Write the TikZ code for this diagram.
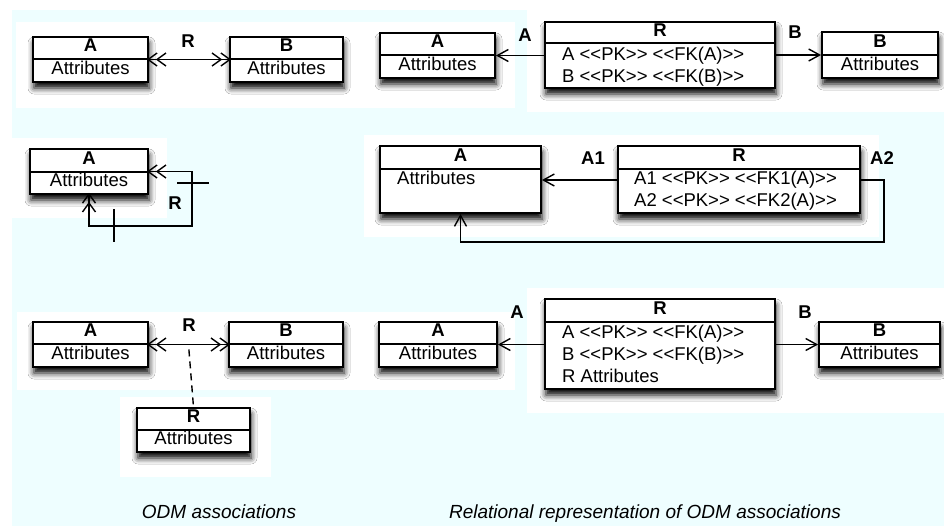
\documentclass[tikz,border=0pt]{standalone}
\usepackage{fontspec}
\setmainfont{Liberation Sans}[Ligatures=TeXOff]
\usetikzlibrary{arrows.meta,shadows.blur,fit,calc}
\definecolor{bgcyan}{RGB}{238,254,255}
\newcommand\umlbox[7]{%
  \coordinate (#1-nw) at (#2,#3);
  \coordinate (#1-se) at (#4,#5);
  \node[ubox, fit=(#1-nw)(#1-se)] (#1) {};
  \draw[divline] (#1.west |- 0,#6) -- (#1.east |- 0,#6);
  \node[ttl] (#1-title) at ({(#2+#4)/2},{(#3+#6)/2}) {#7};
}
\begin{document}
\begin{tikzpicture}[x=1pt,y=-1pt,
  >={Straight Barb[length=9pt,width=13pt,sep=-2pt]},
  ubox/.style={draw=black, line width=1.8pt, fill=white, inner sep=0pt,
    blur shadow={shadow xshift=1pt, shadow yshift=-6pt, shadow blur radius=6pt, shadow opacity=100}},
  divline/.style={line width=1.3pt},
  txt/.style={inner sep=0pt, text height=0.716em, text depth=0pt, font=\fontsize{18.5}{21}\selectfont},
  ttl/.style={txt, font=\fontsize{18.5}{21}\selectfont\bfseries},
  lbl/.style={ttl},
  conn/.style={line width=1.4pt},
  single/.style={conn, -{Straight Barb[length=11pt,width=12pt]}},
  dbl/.style={conn, <<->>},
  captext/.style={inner sep=0pt, text height=0.716em, text depth=0pt, font=\fontsize{19}{22}\selectfont\itshape}
]
\useasboundingbox (0,0) rectangle (944,528);
\fill[bgcyan] (12,10) rectangle (944,526);
% white zones
\fill[white] (16,22) rectangle (515,108);
\fill[white] (527,8) rectangle (944,112);
\fill[white] (12,138) rectangle (167,218);
\fill[white] (364,135) rectangle (879,237);
\fill[white] (17,312) rectangle (515,390);
\fill[white] (527,288) rectangle (944,413);
\fill[white] (120,397) rectangle (271,477);

% ---------- row 1 ----------
\umlbox{a1}{33}{37}{148}{82}{59}{A}
\node[txt] at (90.5,70.5) {Attributes};
\umlbox{b1}{230}{37}{343}{82}{59}{B}
\node[txt] at (286.5,70.5) {Attributes};
\draw[dbl] (a1.east) -- (b1.west);
\node[lbl] at (188,44) {R};

\umlbox{a2}{380}{33}{495}{78}{55}{A}
\node[txt] at (437.5,66.5) {Attributes};
\umlbox{r2}{545}{22}{775}{88}{43}{R}
\node[txt, anchor=west] at (562,57) {A <<PK>> <<FK(A)>>};
\node[txt, anchor=west] at (562,79) {B <<PK>> <<FK(B)>>};
\umlbox{b2}{822}{32}{938}{78}{55}{B}
\node[txt] at (880,66.5) {Attributes};
\draw[single] (r2.west |- a2.east) -- (a2.east);
\draw[single] (r2.east |- b2.west) -- (b2.west);
\node[lbl] at (525,38) {A};
\node[lbl] at (795,35) {B};

% ---------- row 2 ----------
\umlbox{a3}{30}{149}{148}{194}{172}{A}
\node[txt] at (89,183) {Attributes};
\draw[dbl] (a3.east) -- (192,171.5) -- (192,226) -| (a3.south);
\draw[conn] (177,183) -- (209,183);
\draw[conn] (114,209) -- (114,242);
\node[lbl] at (175,206) {R};

\umlbox{a4}{380}{146}{541}{213}{169}{A}
\node[txt, anchor=west] at (397,181) {Attributes};
\umlbox{r4}{618}{146}{860}{213}{169}{R}
\node[txt, anchor=west] at (634,181) {A1 <<PK>> <<FK1(A)>>};
\node[txt, anchor=west] at (634,203) {A2 <<PK>> <<FK2(A)>>};
\draw[single] (r4.west |- 0,180) -- (a4.east |- 0,180);
\draw[single] (r4.east |- 0,180) -- (884,180) -- (884,242) -| (a4.south);
\node[lbl] at (593,161) {A1};
\node[lbl] at (882,161) {A2};

% ---------- row 3 ----------
\umlbox{a5}{33}{322}{148}{367}{344}{A}
\node[txt] at (90.5,355.5) {Attributes};
\umlbox{b5}{229}{322}{343}{367}{344}{B}
\node[txt] at (286,355.5) {Attributes};
\draw[dbl] (a5.east) -- (b5.west);
\coordinate (m5) at ($(a5.east)!0.5!(b5.west)$);
\node[lbl] at (189,328) {R};
\umlbox{r5}{137}{408}{250}{452}{430}{R}
\node[txt] at (193.5,441) {Attributes};
\draw[conn, dash pattern=on 7pt off 5pt, shorten <=5pt] (m5) -- (r5.north);

\umlbox{a6}{379}{322}{497}{367}{344}{A}
\node[txt] at (438,355.5) {Attributes};
\umlbox{r6}{545}{299}{775}{389}{322}{R}
\node[txt, anchor=west] at (562,335) {A <<PK>> <<FK(A)>>};
\node[txt, anchor=west] at (562,357) {B <<PK>> <<FK(B)>>};
\node[txt, anchor=west] at (562,379) {R Attributes};
\umlbox{b6}{819}{322}{940}{367}{344}{B}
\node[txt] at (879.5,355.5) {Attributes};
\draw[single] (r6.west |- a6.east) -- (a6.east);
\draw[single] (r6.east |- b6.west) -- (b6.west);
\node[lbl] at (517,315) {A};
\node[lbl] at (805,315) {B};

% ---------- captions ----------
\node[captext] (cap1) at (219,515) {ODM associations};
\node[captext] (cap2) at (645,515) {Relational representation of ODM associations};
\end{tikzpicture}
\end{document}
